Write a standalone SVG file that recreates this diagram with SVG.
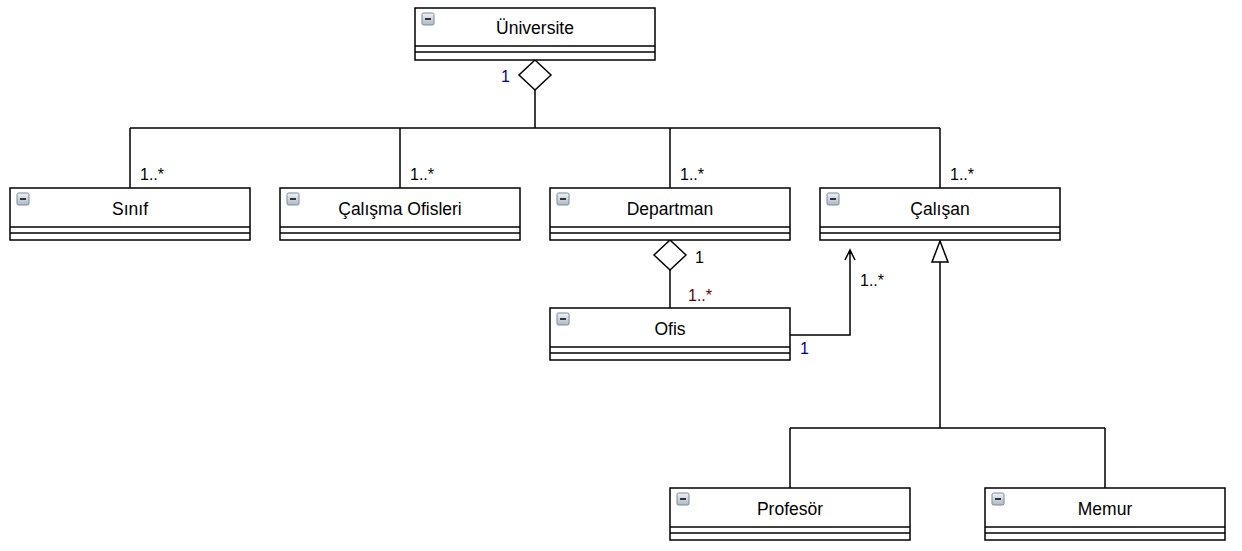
<svg xmlns="http://www.w3.org/2000/svg" width="1242" height="551" viewBox="0 0 1242 551">
<style>
.box{fill:#fff;stroke:#000;stroke-width:1.5}
.sep{stroke:#000;stroke-width:1.5}
.t{font-family:"Liberation Sans",Arial,sans-serif;font-size:17.5px;text-anchor:middle;fill:#000}
.lbl{font-family:"Liberation Sans",Arial,sans-serif;font-size:16px;fill:#000}
.navy{fill:#000080}
.maroon{fill:#600000}
.ln{fill:none;stroke:#000;stroke-width:1.5}
.ic{fill:url(#g);stroke:#7a8a99;stroke-width:1}
.icm{stroke:#333;stroke-width:2}
</style>
<defs>
<linearGradient id="g" x1="0" y1="0" x2="0" y2="1"><stop offset="0" stop-color="#f0f3f7"/><stop offset="1" stop-color="#aeb8c4"/></linearGradient>
<g id="icon"><rect class="ic" x="0" y="0" width="12" height="12" rx="1.5"/><line class="icm" x1="3" y1="6" x2="9" y2="6"/></g>
</defs>

<g id="connectors">
<polygon points="535,60 551,75 535,90 519,75" fill="#fff" stroke="#000" stroke-width="1.5"/>
<path class="ln" d="M535,90 V128 M130,128 H940 M130,128 V188 M400,128 V188 M670,128 V188 M940,128 V188"/>
<text class="lbl navy" x="501" y="82">1</text>
<text class="lbl" x="140" y="180">1..*</text>
<text class="lbl" x="410" y="180">1..*</text>
<text class="lbl" x="680" y="180">1..*</text>
<text class="lbl" x="950" y="180">1..*</text>

<polygon points="670,240 686,255 670,270 654,255" fill="#fff" stroke="#000" stroke-width="1.5"/>
<path class="ln" d="M670,270 V308"/>
<text class="lbl" x="695" y="263">1</text>
<text class="lbl maroon" x="688" y="301">1..*</text>

<path class="ln" d="M790,335 H850 V250 M845,260 L850,250 L855,260"/>
<text class="lbl" x="860" y="286">1..*</text>
<text class="lbl navy" x="800" y="354">1</text>

<polygon points="940,241 948,262 932,262" fill="#fff" stroke="#000" stroke-width="1.5"/>
<path class="ln" d="M940,262 V428 M790,428 H1105 M790,428 V488 M1105,428 V488"/>
</g>

<g id="universite">
<rect class="box" x="415" y="8" width="240" height="52"/>
<line class="sep" x1="415" y1="46" x2="655" y2="46"/><line class="sep" x1="415" y1="52" x2="655" y2="52"/>
<use href="#icon" x="422" y="13"/>
<text class="t" x="535" y="34">Üniversite</text>
</g>

<g id="sinif">
<rect class="box" x="10" y="188" width="240" height="52"/>
<line class="sep" x1="10" y1="227" x2="250" y2="227"/><line class="sep" x1="10" y1="233" x2="250" y2="233"/>
<use href="#icon" x="17" y="193"/>
<text class="t" x="130" y="215">Sınıf</text>
</g>

<g id="calisma-ofisleri">
<rect class="box" x="280" y="188" width="240" height="52"/>
<line class="sep" x1="280" y1="227" x2="520" y2="227"/><line class="sep" x1="280" y1="233" x2="520" y2="233"/>
<use href="#icon" x="287" y="193"/>
<text class="t" x="400" y="215">Çalışma Ofisleri</text>
</g>

<g id="departman">
<rect class="box" x="550" y="188" width="240" height="52"/>
<line class="sep" x1="550" y1="227" x2="790" y2="227"/><line class="sep" x1="550" y1="233" x2="790" y2="233"/>
<use href="#icon" x="557" y="193"/>
<text class="t" x="670" y="215">Departman</text>
</g>

<g id="calisan">
<rect class="box" x="820" y="188" width="240" height="52"/>
<line class="sep" x1="820" y1="227" x2="1060" y2="227"/><line class="sep" x1="820" y1="233" x2="1060" y2="233"/>
<use href="#icon" x="827" y="193"/>
<text class="t" x="940" y="215">Çalışan</text>
</g>

<g id="ofis">
<rect class="box" x="550" y="308" width="240" height="52"/>
<line class="sep" x1="550" y1="347" x2="790" y2="347"/><line class="sep" x1="550" y1="353" x2="790" y2="353"/>
<use href="#icon" x="557" y="313"/>
<text class="t" x="670" y="335">Ofis</text>
</g>

<g id="profesor">
<rect class="box" x="670" y="488" width="240" height="52"/>
<line class="sep" x1="670" y1="527" x2="910" y2="527"/><line class="sep" x1="670" y1="533" x2="910" y2="533"/>
<use href="#icon" x="677" y="493"/>
<text class="t" x="790" y="515">Profesör</text>
</g>

<g id="memur">
<rect class="box" x="985" y="488" width="240" height="52"/>
<line class="sep" x1="985" y1="527" x2="1225" y2="527"/><line class="sep" x1="985" y1="533" x2="1225" y2="533"/>
<use href="#icon" x="992" y="493"/>
<text class="t" x="1105" y="515">Memur</text>
</g>
</svg>
